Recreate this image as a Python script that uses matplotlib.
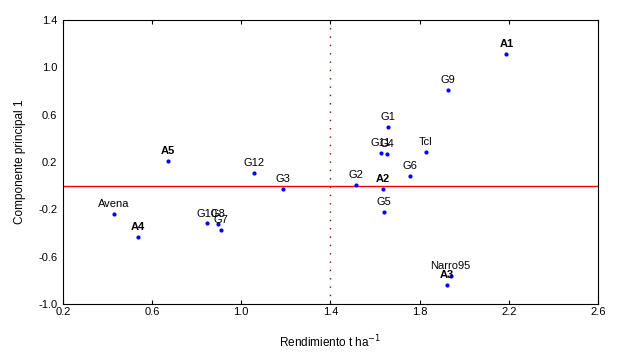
import matplotlib.pyplot as plt

# genotipos / ambientes: rendimiento vs componente principal 1
etiquetas = ["A1", "G9", "G1", "G11", "G4", "Tcl", "G6", "G2", "A2", "G5",
             "A5", "G12", "G3", "Avena", "A4", "G10", "G8", "G7", "Narro95", "A3"]
rendimiento = [2.19, 1.927, 1.658, 1.626, 1.654, 1.828, 1.757, 1.513, 1.637, 1.642,
               0.672, 1.057, 1.188, 0.427, 0.535, 0.847, 0.897, 0.907, 1.939, 1.923]
cp1 = [1.113, 0.808, 0.496, 0.276, 0.267, 0.284, 0.081, 0.008, -0.031, -0.225,
       0.206, 0.104, -0.026, -0.240, -0.434, -0.319, -0.324, -0.373, -0.764, -0.840]
negrita = ["A1", "A2", "A3", "A4", "A5"]

media_rend = 1.4
media_cp = 0.0

fig = plt.figure(figsize=(6.28, 3.56), dpi=100)
ax = fig.add_axes([0.1003, 0.146, 0.8517, 0.798])

ax.axhline(media_cp, color="red", lw=1)
ax.axvline(media_rend, color="#a00000", lw=1, linestyle=(0, (1, 5)))

ax.plot(rendimiento, cp1, "o", color="blue", markersize=2, linestyle="none")

for nombre, x, y in zip(etiquetas, rendimiento, cp1):
    peso = "bold" if nombre in negrita else "normal"
    ax.annotate(nombre, (x, y), xytext=(0, 3.5), textcoords="offset points",
                ha="center", va="bottom", fontsize=8, fontweight=peso,
                family="Liberation Sans")

ax.set_xlim(0.2, 2.6)
ax.set_ylim(-1.0, 1.4)
ax.set_xticks([0.2, 0.6, 1.0, 1.4, 1.8, 2.2, 2.6])
ax.set_yticks([-1.0, -0.6, -0.2, 0.2, 0.6, 1.0, 1.4])
ax.set_xticklabels(["0.2", "0.6", "1.0", "1.4", "1.8", "2.2", "2.6"],
                   family="Liberation Sans", fontsize=8)
ax.set_yticklabels(["-1.0", "-0.6", "-0.2", "0.2", "0.6", "1.0", "1.4"],
                   family="Liberation Sans", fontsize=8)
ax.tick_params(axis="x", direction="in", length=3, top=True, pad=2)
ax.tick_params(axis="y", length=0, pad=4)

ax.set_xlabel("Rendimiento t ha$^{-1}$", family="Liberation Sans", fontsize=8.5, labelpad=12)
ax.set_ylabel("Componente principal 1", family="Liberation Sans", fontsize=8.5, labelpad=9)

plt.savefig("out.png", dpi=100)
